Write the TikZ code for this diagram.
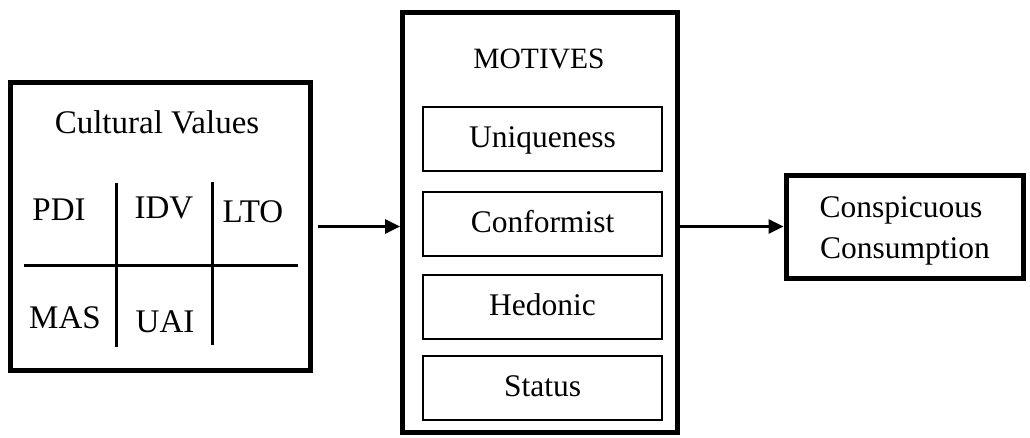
\documentclass[tikz,border=0pt]{standalone}
\usepackage{fontspec}
\setmainfont{Liberation Serif}
\usetikzlibrary{arrows.meta}
\begin{document}
\begin{tikzpicture}[x=1pt,y=-1pt,
  bigbox/.style={draw,line width=5pt,inner sep=0pt},
  smallbox/.style={draw,line width=2pt,minimum width=239pt,minimum height=64pt,inner sep=0pt,
    text height=20pt,text depth=3pt,font=\fontsize{31.5}{36}\selectfont},
  lbl/.style={anchor=base,inner sep=0pt,font=\fontsize{31.5}{36}\selectfont},
  cvlbl/.style={lbl,font=\fontsize{33}{38}\selectfont},
  grid/.style={line width=3pt},
  arr/.style={line width=3pt,-{Triangle[length=15pt,width=14pt]}}]
\useasboundingbox (0,0) rectangle (1030,437);
% left box
\node[bigbox,minimum width=300pt,minimum height=288pt] (cv) at (160.5,226.5) {};
\node[cvlbl] (cvt) at (157,133) {Cultural Values};
\draw[grid] (116,183) -- (116,347);
\draw[grid] (212,182) -- (212,345);
\draw[grid] (24,265) -- (298,265);
\node[cvlbl] (pdi) at (59,220) {PDI};
\node[cvlbl] (idv) at (164,218) {IDV};
\node[cvlbl] (lto) at (253,222) {LTO};
\node[cvlbl] (mas) at (65,328) {MAS};
\node[cvlbl] (uai) at (165,332) {UAI};
% middle box
\node[bigbox,minimum width=275pt,minimum height=420pt] (mot) at (540,222) {};
\node[lbl,font=\fontsize{29.5}{34}\selectfont] (mott) at (539,68) {MOTIVES};
\node[smallbox] (uni) at (542.5,139) {Uniqueness};
\node[smallbox] (con) at (542.5,224) {Conformist};
\node[smallbox] (hed) at (542.5,307) {Hedonic};
\node[smallbox] (sta) at (542.5,387.5) {Status};
% right box
\node[bigbox,minimum width=237pt,minimum height=103pt] (cc) at (904.5,226.5) {};
\node[lbl] (cc1) at (901,217) {Conspicuous};
\node[lbl] (cc2) at (905,258) {Consumption};
% arrows
\draw[arr] ([xshift=5pt]cv.east) -- (cv.east -| mot.west);
\draw[arr] (mot.east |- cc.west) -- (cc.west);
\end{tikzpicture}
\end{document}
